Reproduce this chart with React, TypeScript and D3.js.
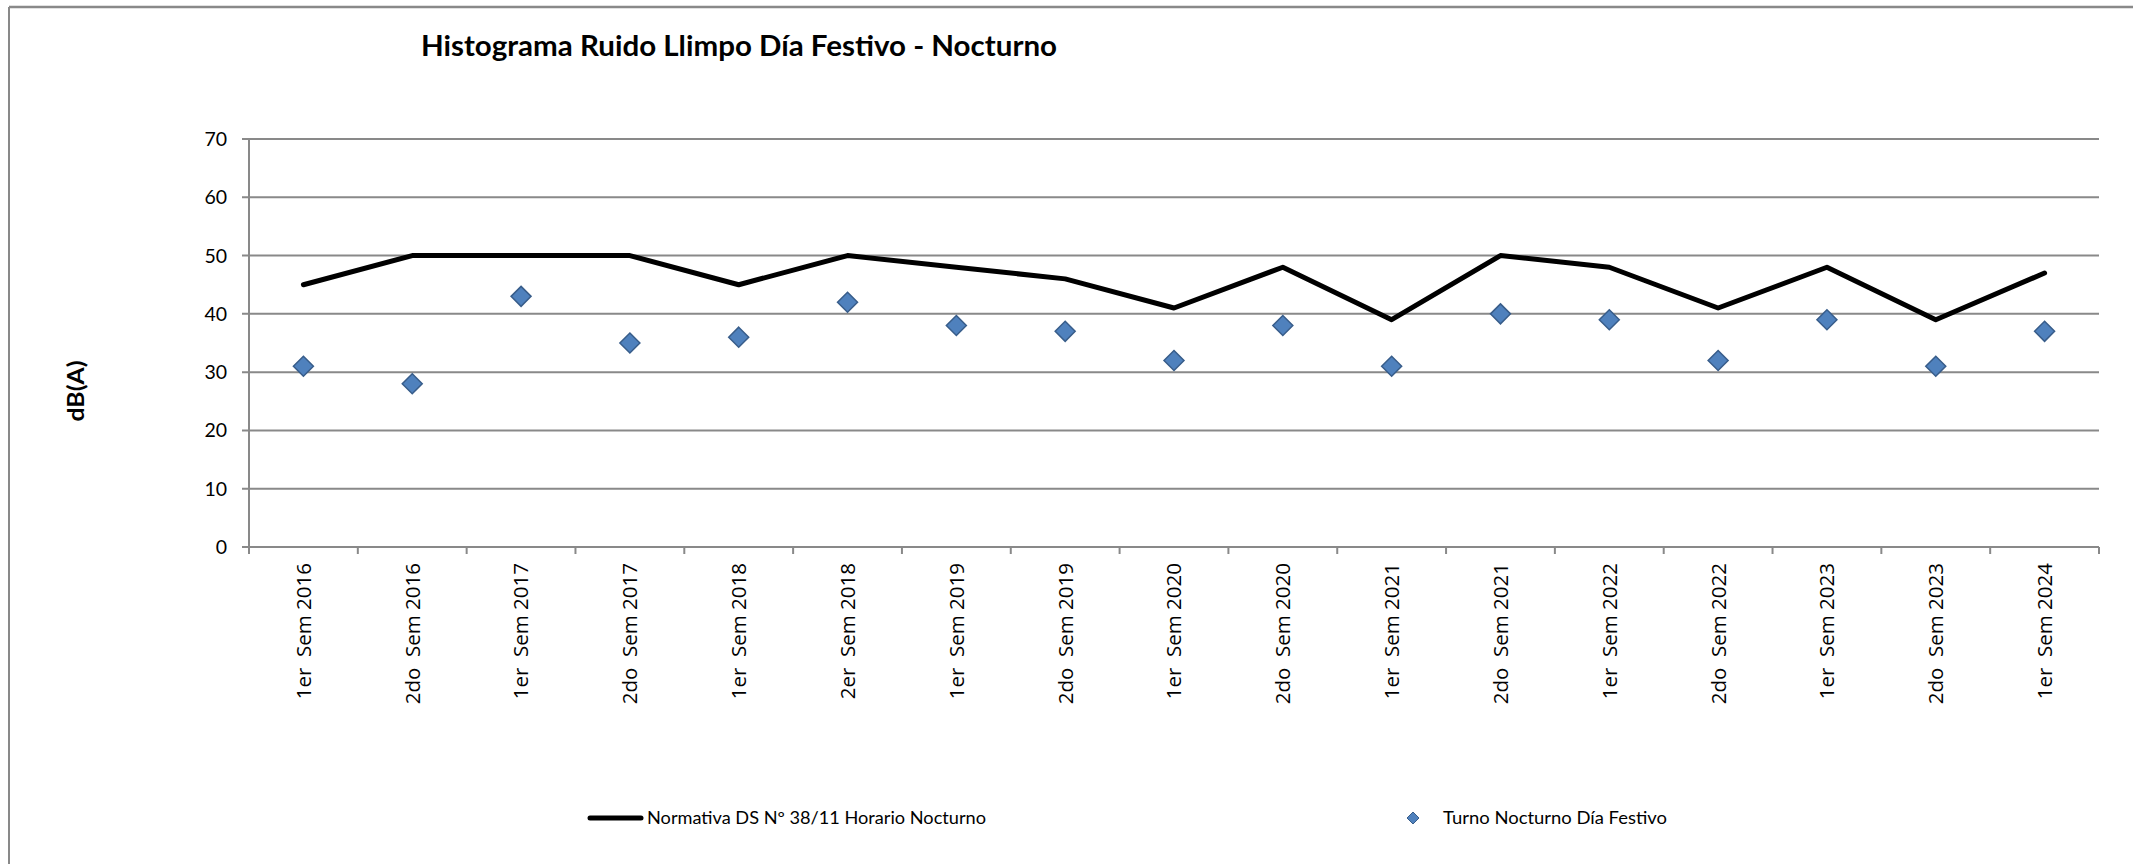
import React from "react";
import * as d3 from "d3";

const categories = [
  "1er  Sem 2016", "2do  Sem 2016", "1er  Sem 2017", "2do  Sem 2017",
  "1er  Sem 2018", "2er  Sem 2018", "1er  Sem 2019", "2do  Sem 2019",
  "1er  Sem 2020", "2do  Sem 2020", "1er  Sem 2021", "2do  Sem 2021",
  "1er  Sem 2022", "2do  Sem 2022", "1er  Sem 2023", "2do  Sem 2023",
  "1er  Sem 2024",
];
const normativa = [45, 50, 50, 50, 45, 50, 48, 46, 41, 48, 39, 50, 48, 41, 48, 39, 47];
const turnoFestivo = [31, 28, 43, 35, 36, 42, 38, 37, 32, 38, 31, 40, 39, 32, 39, 31, 37];
const yTicks = [0, 10, 20, 30, 40, 50, 60, 70];

const title = "Histograma Ruido Llimpo Día Festivo - Nocturno";
const yLabel = "dB(A)";
const legendLine = "Normativa DS Nº 38/11 Horario Nocturno";
const legendMarker = "Turno Nocturno Día Festivo";

const width = 2133;
const height = 864;
const margin = { top: 139, right: 34, bottom: 317, left: 249 };
const gridColor = "#898989";
const calibri = "Lato, 'Liberation Sans', sans-serif";

export default function App() {
  const x = d3
    .scaleBand()
    .domain(categories)
    .range([margin.left, width - margin.right]);
  const y = d3
    .scaleLinear()
    .domain([0, 70])
    .range([height - margin.bottom, margin.top]);
  const cx = (c) => x(c) + x.bandwidth() / 2;

  const line = d3
    .line()
    .x((d, i) => cx(categories[i]))
    .y((d) => y(d));

  const diamond = (px, py, r) =>
    `M${px},${py - r}L${px + r},${py}L${px},${py + r}L${px - r},${py}Z`;

  const x0 = margin.left;
  const x1 = width - margin.right;
  const yBase = y(0);
  const boundaries = categories.map((c) => x(c)).concat([x1]);

  return (
    <svg
      width={width}
      height={height}
      style={{ position: "absolute", left: 0, top: 0, background: "#fff" }}
    >
      {/* outer chart border */}
      <line x1={9} y1={7} x2={width} y2={7} stroke={gridColor} strokeWidth={2.5} />
      <line x1={9} y1={7} x2={9} y2={height} stroke={gridColor} strokeWidth={2} />

      <text
        x={421}
        y={56}
        fontFamily={calibri}
        fontWeight="bold"
        fontSize={29}
        textLength={636}
        lengthAdjust="spacingAndGlyphs"
        fill="#000"
      >
        {title}
      </text>

      {/* gridlines + y ticks */}
      {yTicks.map((t) => (
        <g key={t}>
          <line x1={x0 - 7} x2={x1} y1={y(t)} y2={y(t)} stroke={gridColor} strokeWidth={2} />
          <text
            x={227}
            y={y(t)}
            dy="0.36em"
            textAnchor="end"
            fontFamily={calibri}
            fontSize={19.5}
            fill="#000"
          >
            {t}
          </text>
        </g>
      ))}
      <line x1={x0} x2={x0} y1={y(70)} y2={yBase + 7} stroke={gridColor} strokeWidth={2} />

      {/* x ticks */}
      {boundaries.map((b, i) => (
        <line key={i} x1={b} x2={b} y1={yBase} y2={yBase + 7} stroke={gridColor} strokeWidth={2} />
      ))}
      {categories.map((c) => (
        <text
          key={c}
          transform={`translate(${cx(c)},${yBase + 16}) rotate(-90)`}
          dy="0.36em"
          textAnchor="end"
          fontFamily="'Open Sans', sans-serif"
          fontSize={20.5}
          fill="#000"
          style={{ whiteSpace: "pre" }}
        >
          {c}
        </text>
      ))}

      <text
        transform={`translate(76,391) rotate(-90)`}
        dy="0.36em"
        textAnchor="middle"
        fontFamily={calibri}
        fontWeight="bold"
        fontSize={23}
        textLength={61}
        lengthAdjust="spacingAndGlyphs"
        fill="#000"
      >
        {yLabel}
      </text>

      {/* series */}
      <path
        d={line(normativa)}
        fill="none"
        stroke="#000"
        strokeWidth={5}
        strokeLinejoin="round"
        strokeLinecap="round"
      />
      {turnoFestivo.map((v, i) => (
        <path
          key={i}
          d={diamond(cx(categories[i]), y(v), 10)}
          fill="#4f81bd"
          stroke="#385d8a"
          strokeWidth={1.5}
        />
      ))}

      {/* legend */}
      <line x1={590} x2={641} y1={818} y2={818} stroke="#000" strokeWidth={5} strokeLinecap="round" />
      <text
        x={647}
        y={818}
        dy="0.36em"
        fontFamily={calibri}
        fontSize={17}
        textLength={339}
        lengthAdjust="spacingAndGlyphs"
        fill="#000"
      >
        {legendLine}
      </text>
      <path d={diamond(1413, 818, 6)} fill="#4f81bd" stroke="#385d8a" strokeWidth={1} />
      <text
        x={1443}
        y={818}
        dy="0.36em"
        fontFamily={calibri}
        fontSize={17}
        textLength={224}
        lengthAdjust="spacingAndGlyphs"
        fill="#000"
      >
        {legendMarker}
      </text>
    </svg>
  );
}
